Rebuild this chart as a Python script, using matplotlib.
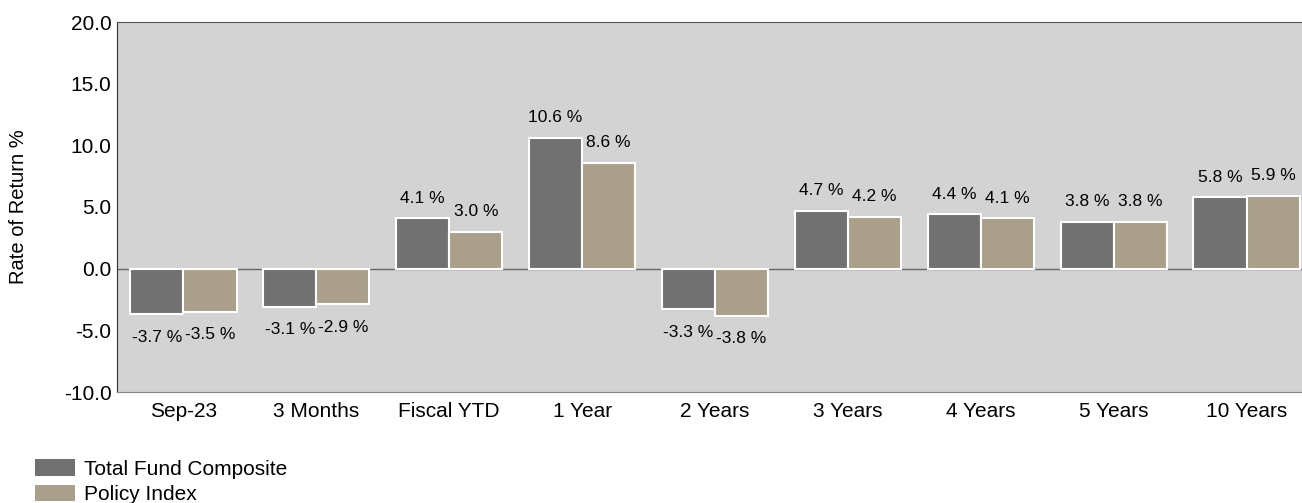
import numpy as np
import matplotlib.pyplot as plt
from matplotlib.patches import Patch

plt.rcParams['font.family'] = ['Liberation Sans', 'DejaVu Sans']

categories = ["Sep-23", "3 Months", "Fiscal YTD", "1 Year", "2 Years",
              "3 Years", "4 Years", "5 Years", "10 Years"]
fund = [-3.7, -3.1, 4.1, 10.6, -3.3, 4.7, 4.4, 3.8, 5.8]
policy = [-3.5, -2.9, 3.0, 8.6, -3.8, 4.2, 4.1, 3.8, 5.9]
series_names = ["Total Fund Composite", "Policy Index"]
colors = ["#717171", "#a99f8a"]

fig = plt.figure(figsize=(13.02, 5.03), dpi=100)
ax = fig.add_axes([117 / 1302, 111 / 503, 1196 / 1302, 370 / 503])
ax.set_facecolor("#d3d3d3")

x = np.arange(len(categories))
w = 0.4
for off, vals, c in [(-w / 2, fund, colors[0]), (w / 2, policy, colors[1])]:
    bars = ax.bar(x + off, vals, width=w, color=c, edgecolor="white", linewidth=1.5, zorder=3)
    for b, v in zip(bars, vals):
        cx = b.get_x() + b.get_width() / 2
        if v >= 0:
            ax.annotate(f"{v:.1f} %", (cx, v), xytext=(0, 9), textcoords="offset points",
                        ha="center", va="bottom", fontsize=12.5)
        else:
            ax.annotate(f"{v:.1f} %", (cx, v), xytext=(0, -11), textcoords="offset points",
                        ha="center", va="top", fontsize=12.5)

ax.axhline(0, color="#666666", linewidth=1, zorder=2)
ax.set_xlim(-0.5, len(categories) - 0.5)
ax.set_ylim(-10, 20)
ax.set_yticks(np.arange(-10, 21, 5))
ax.set_yticklabels([f"{t:.1f}" for t in np.arange(-10, 21, 5)], fontsize=15)
ax.set_xticks(x)
ax.set_xticklabels(categories, fontsize=15)
ax.tick_params(length=0, pad=4)
ax.tick_params(axis="x", pad=7)
ax.spines["right"].set_visible(False)
ax.spines["top"].set_color("#555555")
ax.spines["left"].set_color("#333333")
ax.spines["bottom"].set_color("#888888")
ax.set_ylabel("Rate of Return %", fontsize=14.5, labelpad=26)

handles = [Patch(facecolor=c, edgecolor="none") for c in colors]
fig.legend(handles, series_names, loc="upper left", bbox_to_anchor=(35 / 1302, 1 - 459 / 503),
           frameon=False, fontsize=15, handlelength=1.9, handleheight=0.85,
           handletextpad=0.45, labelspacing=0.3, borderpad=0, borderaxespad=0)

fig.savefig("out.png", dpi=100)
